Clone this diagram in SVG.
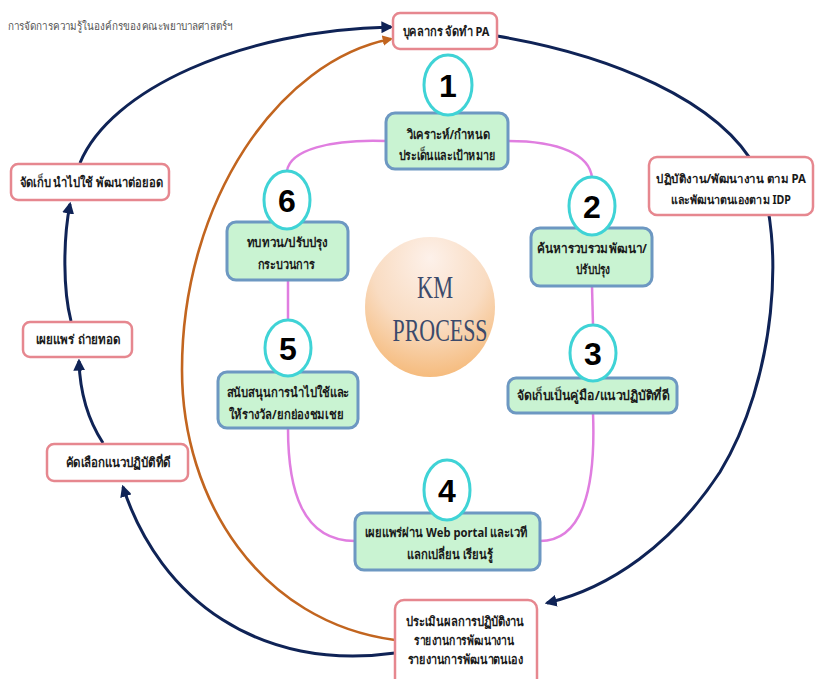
<svg xmlns="http://www.w3.org/2000/svg" width="817" height="679" viewBox="0 0 817 679">
  <defs>
    <style>
      text { font-family: "Noto Sans", "DejaVu Sans", sans-serif; }
      .title { font-size: 11.5px; fill: #555; }
      .pink rect { fill: #fff; stroke: #e6878f; stroke-width: 2.5; }
      .step rect { fill: #c9f3d2; stroke: #6d98c2; stroke-width: 3; }
      .step ellipse { fill: #fff; stroke: #3fd3d6; stroke-width: 3; }
      .lbl { font-size: 13px; font-weight: bold; fill: #1a1a1a; text-anchor: middle; }
      .sm { font-size: 12px; }
      .n { font-family: "Liberation Sans", Arial, sans-serif; font-size: 32px; font-weight: bold; text-anchor: middle; fill: #000; }
      .km { font-family: "Liberation Serif", "DejaVu Serif", serif; font-size: 32px; fill: #3b4a6b; text-anchor: middle; }
      .navy { fill: none; stroke: #0f2356; stroke-width: 3; }
      .orange { fill: none; stroke: #c2651f; stroke-width: 2.6; }
      .cycle { fill: none; stroke: #e07ee0; stroke-width: 2.5; }
    </style>
    <marker id="arrowNavy" viewBox="0 0 10 10" refX="8" refY="5" markerWidth="4" markerHeight="4" orient="auto" markerUnits="strokeWidth">
      <path d="M0,0 L10,5 L0,10 z" fill="#0f2356"/>
    </marker>
    <marker id="arrowOrange" viewBox="0 0 10 10" refX="8" refY="5" markerWidth="4" markerHeight="4" orient="auto" markerUnits="strokeWidth">
      <path d="M0,0 L10,5 L0,10 z" fill="#c2651f"/>
    </marker>
    <radialGradient id="kmFill" cx="0.5" cy="0.25" r="0.8" fx="0.5" fy="0.15">
      <stop offset="0" stop-color="#fdf1ea"/>
      <stop offset="0.55" stop-color="#f9dcc2"/>
      <stop offset="1" stop-color="#f5b774"/>
    </radialGradient>
  </defs>

  <rect width="817" height="679" fill="#fff"/>

  <text class="title" x="8" y="30" textLength="224" lengthAdjust="spacingAndGlyphs">การจัดการความรู้ในองค์กรของคณะพยาบาลศาสตร์ฯ</text>

  <!-- connectors -->
  <g id="connectors">
    <!-- outer loop -->
    <path class="navy" d="M497,36 C610,55 720,100 757,170 C786,240 776,380 720,472 C672,545 610,588 547,603" marker-end="url(#arrowNavy)"/>
    <path class="navy" d="M395,653 C260,672 160,600 123,487" marker-end="url(#arrowNavy)"/>
    <path class="navy" d="M103,443 C88,420 80,395 79,361" marker-end="url(#arrowNavy)"/>
    <path class="navy" d="M71,321 C63,290 63,240 70,204" marker-end="url(#arrowNavy)"/>
    <path class="navy" d="M80,163 C110,90 240,30 391,27" marker-end="url(#arrowNavy)"/>
    <path class="orange" d="M395,640 C260,622 182,500 182,370 C182,200 280,60 391,39" marker-end="url(#arrowOrange)"/>
    <!-- inner cycle -->
    <path class="cycle" d="M386,141 C330,139 290,150 287,171"/>
    <path class="cycle" d="M508,141 C560,141 590,155 592,178"/>
    <path class="cycle" d="M592,286 L593,325"/>
    <path class="cycle" d="M593,413 C596,490 582,541 540,541"/>
    <path class="cycle" d="M355,541 C302,541 288,490 288,428"/>
    <path class="cycle" d="M288,320 L288,280"/>
  </g>

  <!-- outer loop nodes -->
  <g id="pa" class="pink">
    <rect x="393" y="13" width="104" height="36" rx="7"/>
    <text class="lbl" x="446" y="36" textLength="87" lengthAdjust="spacingAndGlyphs">บุคลากร จัดทำ PA</text>
  </g>
  <g id="perform" class="pink">
    <rect x="649" y="157" width="164" height="58" rx="8"/>
    <text class="lbl sm" x="731" y="183" textLength="150" lengthAdjust="spacingAndGlyphs">ปฏิบัติงาน/พัฒนางาน ตาม PA</text>
    <text class="lbl sm" x="731" y="204" textLength="120" lengthAdjust="spacingAndGlyphs">และพัฒนาตนเองตาม IDP</text>
  </g>
  <g id="evaluate" class="pink">
    <rect x="395" y="600" width="142" height="90" rx="9"/>
    <text class="lbl" x="465" y="626" textLength="118" lengthAdjust="spacingAndGlyphs">ประเมินผลการปฏิบัติงาน</text>
    <text class="lbl" x="464" y="645" textLength="100" lengthAdjust="spacingAndGlyphs">รายงานการพัฒนางาน</text>
    <text class="lbl" x="465" y="664" textLength="115" lengthAdjust="spacingAndGlyphs">รายงานการพัฒนาตนเอง</text>
  </g>
  <g id="select" class="pink">
    <rect x="47" y="444" width="141" height="37" rx="7"/>
    <text class="lbl" x="118" y="467" textLength="105" lengthAdjust="spacingAndGlyphs">คัดเลือกแนวปฏิบัติที่ดี</text>
  </g>
  <g id="share" class="pink">
    <rect x="23" y="322" width="109" height="35" rx="7"/>
    <text class="lbl" x="78" y="344" textLength="85" lengthAdjust="spacingAndGlyphs">เผยแพร่ ถ่ายทอด</text>
  </g>
  <g id="store" class="pink">
    <rect x="11" y="164" width="158" height="36" rx="7"/>
    <text class="lbl" x="91" y="187" textLength="143" lengthAdjust="spacingAndGlyphs">จัดเก็บ นำไปใช้ พัฒนาต่อยอด</text>
  </g>

  <!-- centre -->
  <g id="km">
    <ellipse cx="430" cy="307" rx="65" ry="70" fill="url(#kmFill)"/>
    <text class="km" x="435" y="298" textLength="36" lengthAdjust="spacingAndGlyphs">KM</text>
    <text class="km" x="440" y="341" textLength="95" lengthAdjust="spacingAndGlyphs">PROCESS</text>
  </g>

  <!-- KM steps -->
  <g id="step1" class="step">
    <rect x="386" y="113" width="122" height="56" rx="9"/>
    <text class="lbl" x="448" y="139" textLength="83" lengthAdjust="spacingAndGlyphs">วิเคราะห์/กำหนด</text>
    <text class="lbl" x="447" y="160" textLength="97" lengthAdjust="spacingAndGlyphs">ประเด็นและเป้าหมาย</text>
    <ellipse cx="448" cy="85" rx="24" ry="30"/>
    <text class="n" x="448" y="97">1</text>
  </g>
  <g id="step2" class="step">
    <rect x="531" y="228" width="121" height="58" rx="9"/>
    <text class="lbl" x="592" y="253" textLength="110" lengthAdjust="spacingAndGlyphs">ค้นหารวบรวมพัฒนา/</text>
    <text class="lbl" x="593" y="274" textLength="34" lengthAdjust="spacingAndGlyphs">ปรับปรุง</text>
    <ellipse cx="592" cy="206" rx="23" ry="29"/>
    <text class="n" x="592" y="218">2</text>
  </g>
  <g id="step3" class="step">
    <rect x="508" y="378" width="169" height="35" rx="8"/>
    <text class="lbl" x="593" y="400" textLength="153" lengthAdjust="spacingAndGlyphs">จัดเก็บเป็นคู่มือ/แนวปฏิบัติที่ดี</text>
    <ellipse cx="593" cy="353" rx="23" ry="28"/>
    <text class="n" x="593" y="365">3</text>
  </g>
  <g id="step4" class="step">
    <rect x="355" y="513" width="185" height="57" rx="9"/>
    <text class="lbl" x="446" y="537" textLength="163" lengthAdjust="spacingAndGlyphs">เผยแพร่ผ่าน Web portal และเวที</text>
    <text class="lbl" x="450" y="559" textLength="86" lengthAdjust="spacingAndGlyphs">แลกเปลี่ยน เรียนรู้</text>
    <ellipse cx="447" cy="490" rx="23" ry="30"/>
    <text class="n" x="447" y="502">4</text>
  </g>
  <g id="step5" class="step">
    <rect x="218" y="372" width="140" height="56" rx="9"/>
    <text class="lbl" x="288" y="397" textLength="123" lengthAdjust="spacingAndGlyphs">สนับสนุนการนำไปใช้และ</text>
    <text class="lbl" x="286" y="419" textLength="115" lengthAdjust="spacingAndGlyphs">ให้รางวัล/ยกย่องชมเชย</text>
    <ellipse cx="288" cy="348" rx="23" ry="28"/>
    <text class="n" x="288" y="360">5</text>
  </g>
  <g id="step6" class="step">
    <rect x="227" y="222" width="121" height="58" rx="9"/>
    <text class="lbl" x="287" y="247" textLength="81" lengthAdjust="spacingAndGlyphs">ทบทวน/ปรับปรุง</text>
    <text class="lbl" x="286" y="269" textLength="57" lengthAdjust="spacingAndGlyphs">กระบวนการ</text>
    <ellipse cx="287" cy="200" rx="23" ry="29"/>
    <text class="n" x="287" y="212">6</text>
  </g>
</svg>
